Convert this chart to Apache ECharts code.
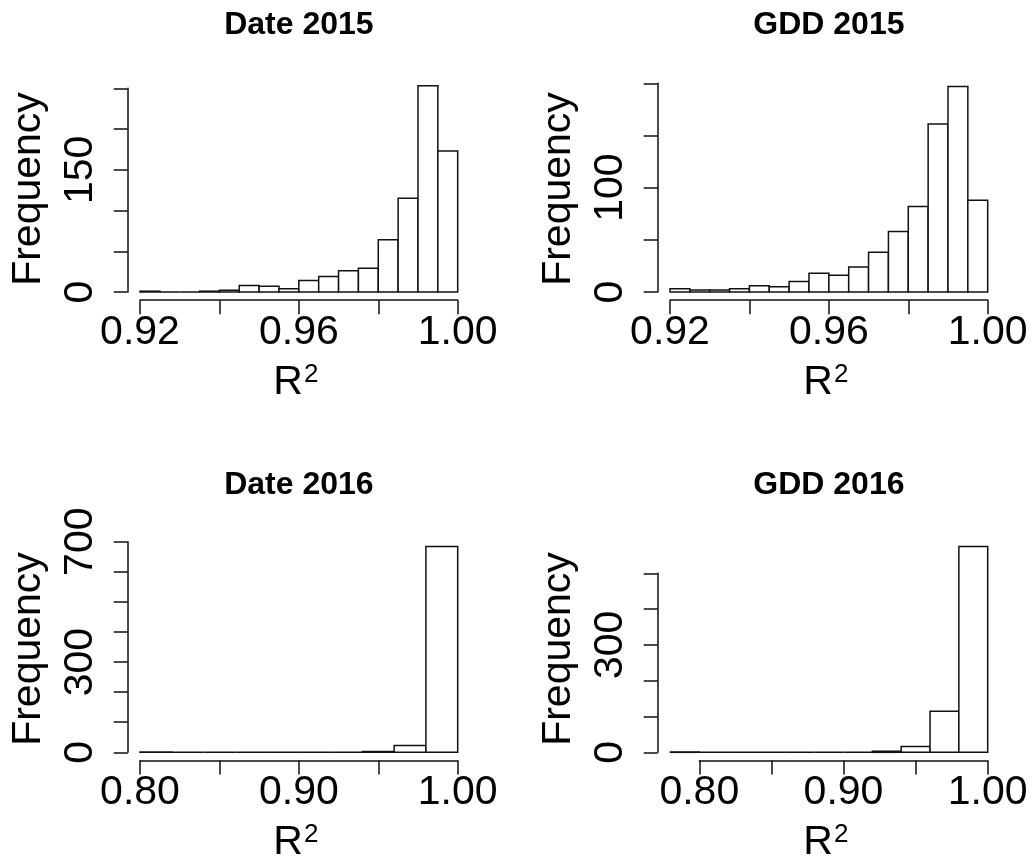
<!DOCTYPE html>
<html>
<head>
<meta charset="utf-8">
<script src="https://cdn.jsdelivr.net/npm/echarts@6/dist/echarts.min.js"></script>
<style>
html,body{margin:0;padding:0;background:#fff;}
#chart{width:1035px;height:863px;}
</style>
</head>
<body>
<div id="chart"></div>
<script>
// ---------------- data ----------------
const panelTitles = ['Date 2015', 'GDD 2015', 'Date 2016', 'GDD 2016'];
const xAxisNameMain = 'R';
const xAxisNameSup = '2';
const yAxisName = 'Frequency';

const date2015Breaks = [0.920,0.925,0.930,0.935,0.940,0.945,0.950,0.955,0.960,0.965,0.970,0.975,0.980,0.985,0.990,0.995,1.000];
const date2015Counts = [1,0,0,1,2,8,7,4,14,19,26,29,64,115,253,173];

const gdd2015Breaks = [0.920,0.925,0.930,0.935,0.940,0.945,0.950,0.955,0.960,0.965,0.970,0.975,0.980,0.985,0.990,0.995,1.000];
const gdd2015Counts = [3,2,2,3,6,5,10,18,16,24,38,58,82,161,197,88];

const date2016Breaks = [0.80,0.82,0.84,0.86,0.88,0.90,0.92,0.94,0.96,0.98,1.00];
const date2016Counts = [1,0,0,0,0,0,0,3,23,684];

const gdd2016Breaks = [0.78,0.80,0.82,0.84,0.86,0.88,0.90,0.92,0.94,0.96,0.98,1.00];
const gdd2016Counts = [1,0,0,0,0,0,0,3,16,115,575];

// tick labels that are printed (others are ticks only)
const date2015XLabels = ['0.92','0.96','1.00'];
const date2015YLabels = ['0','150'];
const gdd2015XLabels = ['0.92','0.96','1.00'];
const gdd2015YLabels = ['0','100'];
const date2016XLabels = ['0.80','0.90','1.00'];
const date2016YLabels = ['0','300','700'];
const gdd2016XLabels = ['0.80','0.90','1.00'];
const gdd2016YLabels = ['0','300'];

// axis tick ranges
const xTicks = [[0.92,1.00,0.02],[0.92,1.00,0.02],[0.80,1.00,0.05],[0.80,1.00,0.05]];
const yTicks = [[0,250,50],[0,200,50],[0,700,100],[0,500,100]];

// ---------------- layout ----------------
const FONT = "'Liberation Sans', Arial, Helvetica, sans-serif";
const INK = '#111';
const LW = 1.5;
const layout = [
  {grid:{left:140,   top:88.3,  width:317.7, height:203.7}, xOff:8.2, yOff:12.3, cx:298.9, row:0,   col:0},
  {grid:{left:670,   top:83.3,  width:317.7, height:208.7}, xOff:8.2, yOff:12.3, cx:828.9, row:0,   col:530},
  {grid:{left:140,   top:541.7, width:317.7, height:210.6}, xOff:8.2, yOff:12.3, cx:298.9, row:460, col:0},
  {grid:{left:699.3, top:573.3, width:288.4, height:179.0}, xOff:8.2, yOff:41.6, cx:828.9, row:460, col:530}
];

const panels = [
  {breaks:date2015Breaks, counts:date2015Counts, xl:date2015XLabels, yl:date2015YLabels},
  {breaks:gdd2015Breaks,  counts:gdd2015Counts,  xl:gdd2015XLabels,  yl:gdd2015YLabels},
  {breaks:date2016Breaks, counts:date2016Counts, xl:date2016XLabels, yl:date2016YLabels},
  {breaks:gdd2016Breaks,  counts:gdd2016Counts,  xl:gdd2016XLabels,  yl:gdd2016YLabels}
];

const grids = [], xAxes = [], yAxes = [], series = [], graphics = [];

panels.forEach((p, i) => {
  const L = layout[i];
  grids.push(Object.assign({outerBoundsMode:'none', containLabel:false}, L.grid));
  xAxes.push({
    gridIndex:i, type:'value', min:xTicks[i][0], max:xTicks[i][1], interval:xTicks[i][2],
    position:'bottom', offset:L.xOff,
    axisLine:{show:true, onZero:false, lineStyle:{color:INK, width:LW}},
    axisTick:{show:true, inside:false, length:14, lineStyle:{color:INK, width:LW}},
    splitLine:{show:false},
    axisLabel:{
      show:true, margin:11.6, color:'#000', fontSize:41, lineHeight:41, fontFamily:FONT,
      showMinLabel:true, showMaxLabel:true, hideOverlap:false,
      formatter:(v) => { const s = Number(v).toFixed(2); return p.xl.indexOf(s) >= 0 ? s : ''; }
    }
  });
  yAxes.push({
    gridIndex:i, type:'value', min:yTicks[i][0], max:yTicks[i][1], interval:yTicks[i][2],
    position:'left', offset:L.yOff,
    axisLine:{show:true, onZero:false, lineStyle:{color:INK, width:LW}},
    axisTick:{show:true, inside:false, length:14, lineStyle:{color:INK, width:LW}},
    splitLine:{show:false},
    axisLabel:{
      show:true, rotate:90, margin:26.6, color:'#000', fontSize:41, lineHeight:41, fontFamily:FONT,
      showMinLabel:true, showMaxLabel:true, hideOverlap:false,
      formatter:(v) => { const s = String(Math.round(v)); return p.yl.indexOf(s) >= 0 ? s : ''; }
    }
  });
  const data = p.counts.map((c, k) => [p.breaks[k], p.breaks[k+1], c]);
  series.push({
    type:'custom', xAxisIndex:i, yAxisIndex:i, clip:false, silent:true,
    encode:{x:[0,1], y:2},
    data:data,
    renderItem:(params, api) => {
      const a = api.coord([api.value(0), api.value(2)]);
      const b = api.coord([api.value(1), 0]);
      return {
        type:'rect',
        shape:{x:a[0], y:a[1], width:b[0]-a[0], height:b[1]-a[1]},
        style:{fill:'#fff', stroke:INK, lineWidth:LW}
      };
    }
  });
  // title
  graphics.push({
    type:'text', x:L.cx, y:25.3 + L.row,
    style:{text:panelTitles[i], fill:'#000', fontSize:32, fontWeight:'bold', fontFamily:FONT,
           align:'center', verticalAlign:'middle', textAlign:'center', textVerticalAlign:'middle'}
  });
  // y axis name
  graphics.push({
    type:'text', x:28.3 + L.col, y:189 + L.row, rotation:Math.PI/2,
    style:{text:yAxisName, fill:'#000', fontSize:41, fontFamily:FONT,
           align:'center', verticalAlign:'middle', textAlign:'center', textVerticalAlign:'middle'}
  });
  // x axis name R^2
  graphics.push({
    type:'text', x:L.cx - 3, y:382.3 + L.row,
    style:{text:xAxisNameMain + '{s|' + xAxisNameSup + '}', fill:'#000', fontSize:41, lineHeight:41, fontFamily:FONT,
           align:'center', verticalAlign:'middle', textAlign:'center', textVerticalAlign:'middle',
           rich:{s:{fontSize:26, lineHeight:22, verticalAlign:'top', fontFamily:FONT, fill:'#000', padding:[0,0,0,1]}}}
  });
});

const chart = echarts.init(document.getElementById('chart'), null, {renderer:'canvas'});
chart.setOption({
  animation:false,
  backgroundColor:'#fff',
  grid:grids, xAxis:xAxes, yAxis:yAxes, series:series, graphic:graphics
});
</script>
</body>
</html>
